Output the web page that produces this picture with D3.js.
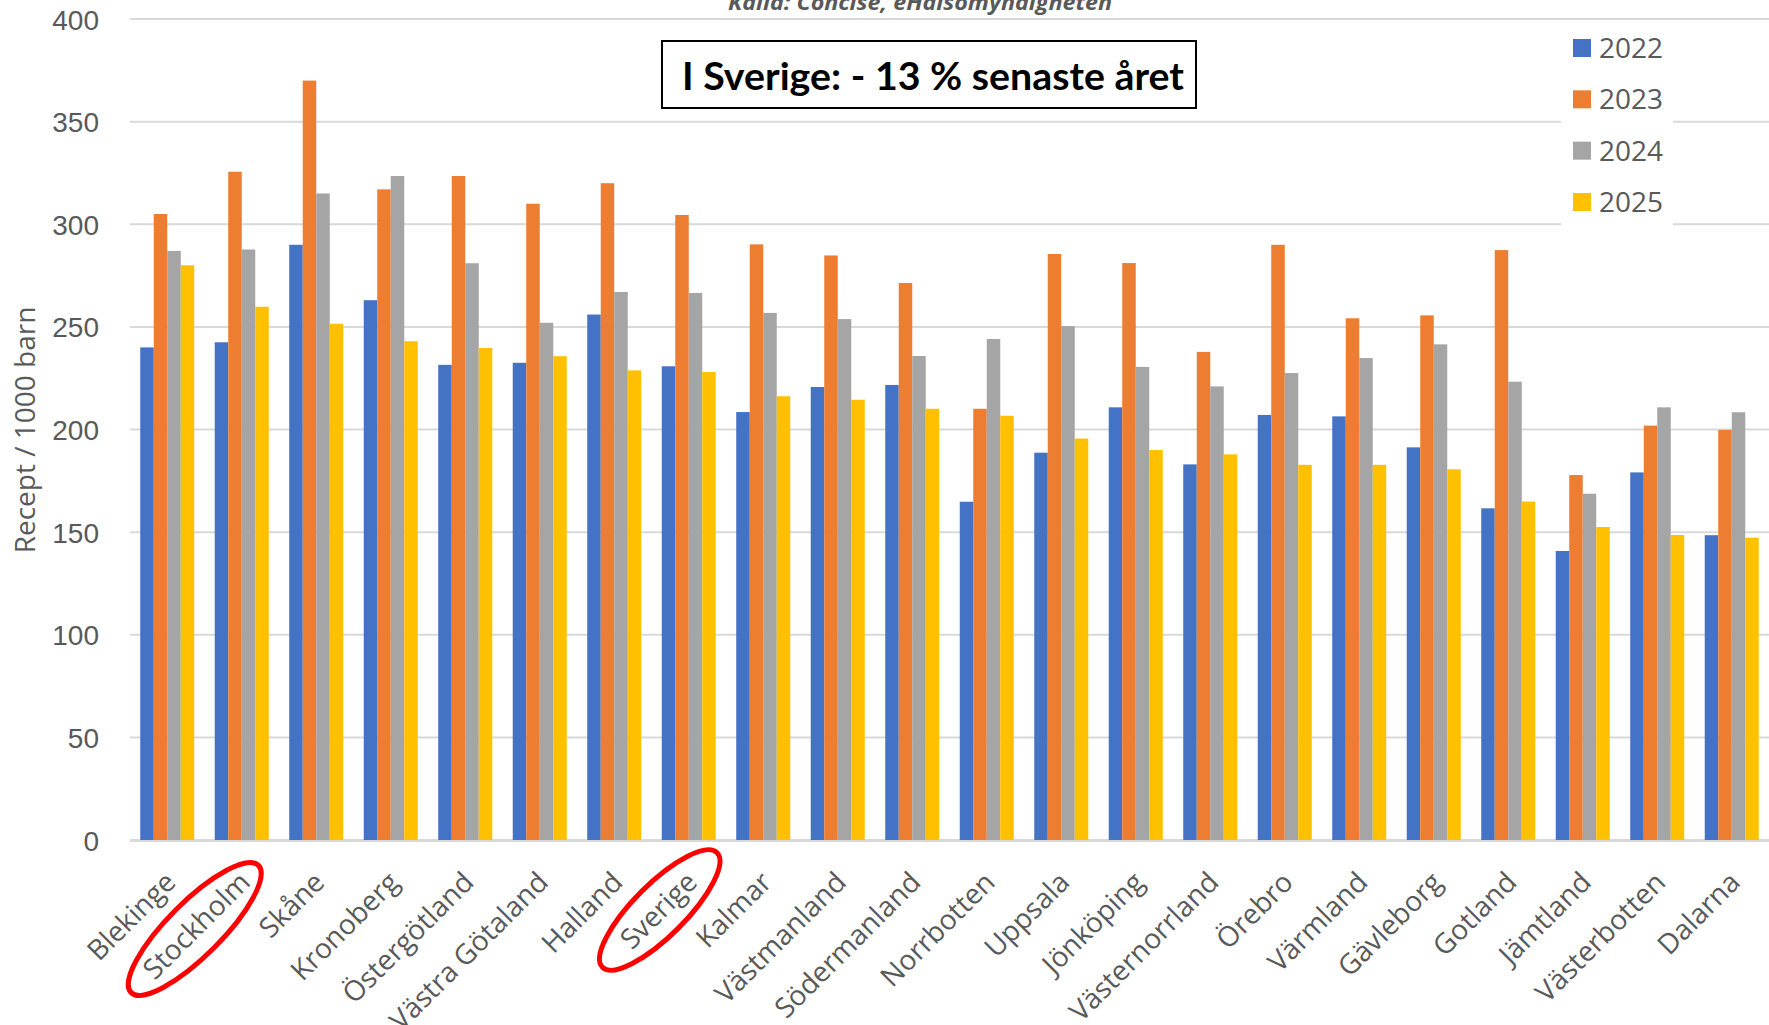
<!DOCTYPE html>
<html>
<head>
<meta charset="utf-8">
<script src="https://cdn.jsdelivr.net/npm/d3@7"></script>
<style>
    body { margin: 0; background: #fff; }
    svg { display: block; font-family: "Open Sans", sans-serif; }
    .tick_label { font-size: 28px; fill: #595959; }
    .axis_title { font-size: 28px; fill: #595959; }
    .legend_text { font-size: 28px; fill: #595959; }
    .source_text { font-size: 22px; font-weight: bold; font-style: italic; fill: #595959; }
    .box_text { font-family: Lato, "Open Sans", sans-serif; font-size: 38px; font-weight: bold; fill: #000; }
</style>
</head>
<body>
<script>
    // data
    var regions = ["Blekinge", "Stockholm", "Skåne", "Kronoberg", "Östergötland", "Västra Götaland",
        "Halland", "Sverige", "Kalmar", "Västmanland", "Södermanland", "Norrbotten", "Uppsala",
        "Jönköping", "Västernorrland", "Örebro", "Värmland", "Gävleborg", "Gotland", "Jämtland",
        "Västerbotten", "Dalarna"];
    var years = ["2022", "2023", "2024", "2025"];
    var values2022 = [240, 242.5, 290, 263, 231.5, 232.5, 256, 230.8, 208.5, 220.7, 221.7, 164.8,
        188.7, 210.8, 183, 207.1, 206.4, 191.3, 161.6, 140.8, 179.1, 148.5];
    var values2023 = [305, 325.6, 370, 317, 323.5, 310, 320, 304.5, 290.2, 284.8, 271.4, 210.1,
        285.5, 281.1, 237.8, 290, 254.2, 255.6, 287.4, 177.8, 201.9, 199.8];
    var values2024 = [287, 287.7, 315, 323.5, 281, 252, 267, 266.5, 256.8, 253.8, 235.8, 244.1,
        250.4, 230.5, 221, 227.5, 234.8, 241.5, 223.3, 168.7, 210.8, 208.4];
    var values2025 = [280, 259.8, 251.5, 243, 239.7, 235.7, 228.8, 228, 216.2, 214.5, 210.1, 206.7,
        195.6, 190, 187.9, 182.8, 182.8, 180.6, 164.9, 152.5, 148.6, 147.3];
    var yTicks = [0, 50, 100, 150, 200, 250, 300, 350, 400];
    var circled = ["Stockholm", "Sverige"];

    const CANVAS = { WIDTH: 1769, HEIGHT: 1025 };
    const PLOT = { LEFT: 130, RIGHT: 1769, TOP: 19, BOTTOM: 840 };
    const COLORS = ["#4472C4", "#ED7D31", "#A5A5A5", "#FFC000"];
    const GRID = "#d9d9d9";

    var series = [values2022, values2023, values2024, values2025];

    var canvas = d3.select("body")
        .append("svg")
        .attr("width", CANVAS.WIDTH)
        .attr("height", CANVAS.HEIGHT);

    canvas.append("rect")
        .attr("width", CANVAS.WIDTH)
        .attr("height", CANVAS.HEIGHT)
        .attr("fill", "#fff");

    var x = d3.scaleBand()
        .domain(regions)
        .range([PLOT.LEFT, PLOT.RIGHT])
        .paddingInner(0.275)
        .paddingOuter(0.1375);

    var xSeries = d3.scaleBand()
        .domain(years)
        .range([0, x.bandwidth()]);

    var y = d3.scaleLinear()
        .domain([0, 400])
        .range([PLOT.BOTTOM, PLOT.TOP]);

    // gridlines
    canvas.append("g")
        .selectAll("line")
        .data(yTicks)
        .enter()
        .append("line")
        .attr("x1", PLOT.LEFT)
        .attr("x2", PLOT.RIGHT)
        .attr("y1", function(d) { return y(d); })
        .attr("y2", function(d) { return y(d); })
        .attr("stroke", GRID)
        .attr("stroke-width", 2);

    // y axis labels
    var axisY = d3.axisLeft(y)
        .tickValues(yTicks)
        .tickSize(0)
        .tickPadding(0);

    var gy = canvas.append("g")
        .attr("transform", "translate(99,0)")
        .call(axisY);
    gy.select(".domain").remove();
    gy.selectAll("text")
        .attr("class", "tick_label")
        .attr("font-size", null)
        .attr("font-family", null)
        .attr("fill", null)
        .attr("dy", "0.36em");

    // y axis title
    canvas.append("text")
        .attr("class", "axis_title")
        .attr("transform", "translate(25,430) rotate(-90)")
        .attr("text-anchor", "middle")
        .attr("dy", "0.36em")
        .text("Recept / 1000 barn");

    // bars
    var groups = canvas.append("g")
        .selectAll("g")
        .data(regions)
        .enter()
        .append("g")
        .attr("transform", function(d) { return "translate(" + x(d) + ",0)"; });

    groups.selectAll("rect")
        .data(function(d, i) {
            return years.map(function(yr, k) { return { year: yr, value: series[k][i], k: k }; });
        })
        .enter()
        .append("rect")
        .attr("x", function(d) { return xSeries(d.year); })
        .attr("width", xSeries.bandwidth())
        .attr("y", function(d) { return y(d.value); })
        .attr("height", function(d) { return y(0) - y(d.value); })
        .attr("fill", function(d) { return COLORS[d.k]; });

    // baseline over the bars
    canvas.append("line")
        .attr("x1", PLOT.LEFT)
        .attr("x2", PLOT.RIGHT)
        .attr("y1", y(0) + 1)
        .attr("y2", y(0) + 1)
        .attr("stroke", GRID)
        .attr("stroke-width", 2);

    // x labels, rotated
    canvas.append("g")
        .selectAll("text")
        .data(regions)
        .enter()
        .append("text")
        .attr("class", "tick_label")
        .attr("text-anchor", "end")
        .attr("transform", function(d) {
            var cx = x(d) + x.bandwidth() / 2;
            return "translate(" + (cx + 10) + "," + (PLOT.BOTTOM + 44) + ") rotate(-45)";
        })
        .text(function(d) { return d; });

    // red rings
    canvas.append("g")
        .selectAll("ellipse")
        .data(circled)
        .enter()
        .append("ellipse")
        .attr("transform", function(d) {
            var cx = x(d) + x.bandwidth() / 2;
            return d === "Stockholm"
                ? "translate(" + (cx - 47) + ",929) rotate(-45)"
                : "translate(" + (cx - 29) + ",910) rotate(-45)";
        })
        .attr("rx", function(d) { return d === "Stockholm" ? 90 : 81; })
        .attr("ry", function(d) { return d === "Stockholm" ? 27 : 26; })
        .attr("fill", "none")
        .attr("stroke", "#ff0000")
        .attr("stroke-width", 5);

    // source line, cut at the top
    canvas.append("text")
        .attr("class", "source_text")
        .attr("x", 728)
        .attr("y", 10)
        .attr("textLength", 384)
        .attr("lengthAdjust", "spacingAndGlyphs")
        .text("Källa: Concise, eHälsomyndigheten");

    // headline box
    canvas.append("rect")
        .attr("x", 662)
        .attr("y", 41)
        .attr("width", 534)
        .attr("height", 67)
        .attr("fill", "#fff")
        .attr("stroke", "#000")
        .attr("stroke-width", 2);

    canvas.append("text")
        .attr("class", "box_text")
        .attr("x", 682)
        .attr("y", 90)
        .attr("textLength", 502)
        .attr("lengthAdjust", "spacingAndGlyphs")
        .text("I Sverige: - 13 % senaste året");

    // legend
    var legend = canvas.append("g");

    legend.append("rect")
        .attr("x", 1561)
        .attr("y", 24)
        .attr("width", 112)
        .attr("height", 208)
        .attr("fill", "#fff");

    var legendRow = d3.scalePoint()
        .domain(years)
        .range([48, 202]);

    legend.selectAll(".swatch")
        .data(years)
        .enter()
        .append("rect")
        .attr("class", "swatch")
        .attr("x", 1573)
        .attr("y", function(d) { return legendRow(d) - 9; })
        .attr("width", 18)
        .attr("height", 18)
        .attr("fill", function(d, i) { return COLORS[i]; });

    legend.selectAll(".legend_text")
        .data(years)
        .enter()
        .append("text")
        .attr("class", "legend_text")
        .attr("x", 1599)
        .attr("y", function(d) { return legendRow(d); })
        .attr("dy", "0.36em")
        .text(function(d) { return d; });
</script>
</body>
</html>
